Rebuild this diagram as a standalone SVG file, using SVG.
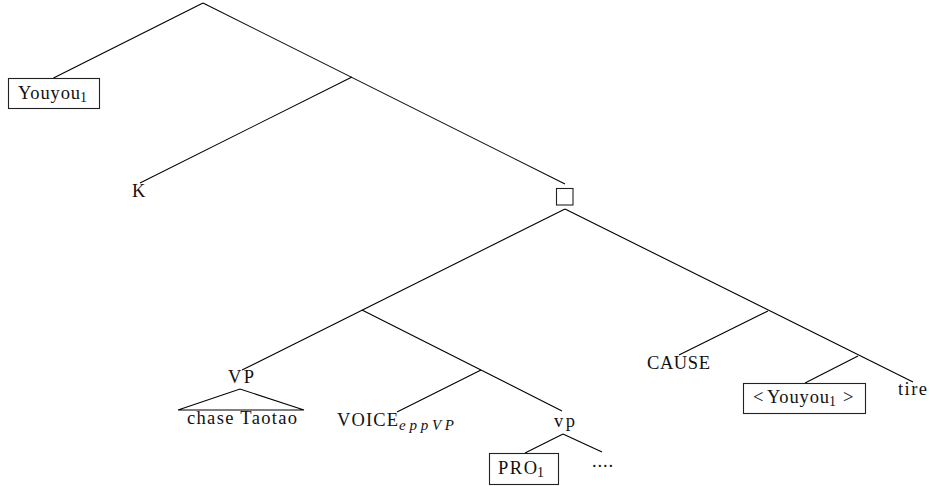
<svg xmlns="http://www.w3.org/2000/svg" width="930" height="486" viewBox="0 0 930 486">
<style>
.e{stroke:#000;stroke-width:1.1;fill:none}
.b{fill:#fff;stroke:#222;stroke-width:1.1}
text{font-family:"Liberation Serif","DejaVu Serif",serif;font-size:18.5px;fill:#111}
.s{font-size:14px}
.i{font-size:15px;font-style:italic}
</style>
<rect width="930" height="486" fill="#fff"/>
<g id="connectors">
<line class="e" x1="203" y1="3" x2="53.5" y2="78"/>
<line class="e" x1="203" y1="3" x2="565" y2="184"/>
<line class="e" x1="352" y1="77" x2="140" y2="183"/>
<line class="e" x1="565" y1="209" x2="242" y2="370"/>
<line class="e" x1="362" y1="310" x2="562" y2="411"/>
<line class="e" x1="481" y1="370" x2="397" y2="412"/>
<line class="e" x1="565" y1="209" x2="913" y2="382"/>
<line class="e" x1="768" y1="311" x2="679" y2="355"/>
<line class="e" x1="858" y1="356" x2="805" y2="383"/>
<line class="e" x1="563" y1="434" x2="525" y2="453"/>
<line class="e" x1="563" y1="434" x2="602" y2="452"/>
</g>
<g id="n-youyou">
<rect class="b" x="8.5" y="78.5" width="91" height="30"/>
<text x="18" y="99" textLength="62" lengthAdjust="spacing">Youyou</text>
<text class="s" x="80" y="102">1</text>
</g>
<g id="n-k"><text x="132" y="197">K</text></g>
<g id="n-square"><rect class="b" x="556.5" y="188.5" width="16.5" height="16.5"/></g>
<g id="n-vp-big">
<text x="228" y="383" textLength="26" lengthAdjust="spacing">VP</text>
<path class="e" d="M178 410 L240 389 L304 410 Z"/>
<text x="187" y="424" textLength="110" lengthAdjust="spacing">chase Taotao</text>
</g>
<g id="n-voice">
<text x="337" y="426" textLength="61" lengthAdjust="spacing">VOICE</text>
<text class="i" x="399" y="430" textLength="55" lengthAdjust="spacing">eppVP</text>
</g>
<g id="n-vp-small"><text x="554" y="427" textLength="21" lengthAdjust="spacing">vp</text></g>
<g id="n-pro">
<rect class="b" x="489.5" y="453.5" width="69" height="31"/>
<text x="498" y="474" textLength="39" lengthAdjust="spacing">PRO</text>
<text class="s" x="537" y="477">1</text>
</g>
<g id="n-dots"><text x="592" y="467" textLength="21" lengthAdjust="spacing">....</text></g>
<g id="n-cause"><text x="647" y="369" textLength="63" lengthAdjust="spacing">CAUSE</text></g>
<g id="n-youyou2">
<rect class="b" x="743.5" y="383.5" width="122" height="30"/>
<text x="753" y="403">&lt;</text>
<text x="767" y="403" textLength="62" lengthAdjust="spacing">Youyou</text>
<text class="s" x="829" y="406">1</text>
<text x="843" y="403">&gt;</text>
</g>
<g id="n-tire"><text x="898" y="395" textLength="29" lengthAdjust="spacing">tire</text></g>
</svg>
